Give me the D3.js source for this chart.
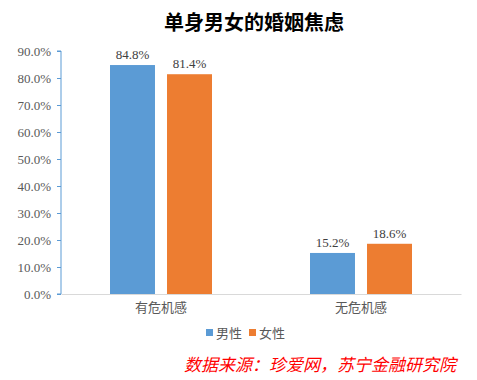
<!DOCTYPE html>
<html><head><meta charset="utf-8">
<script src="https://cdn.jsdelivr.net/npm/d3@7"></script>
<style>body{margin:0;background:#fff}svg{display:block}</style>
</head><body><svg id="c" width="477" height="380"></svg>
<script>
const categories = ["有危机感", "无危机感"];
const seriesNames = ["男性", "女性"];
const male = [84.8, 15.2];
const female = [81.4, 18.6];
const yTicks = [0, 10, 20, 30, 40, 50, 60, 70, 80, 90];
const colors = ["#5B9BD5", "#ED7D31"];

const svg = d3.select("#c");
const m = {l: 61, r: 16, t: 51, b: 86};
const W = 477, H = 380;
const x = d3.scaleBand().domain(categories).range([m.l, W - m.r]);
const xs = d3.scaleBand().domain(seriesNames).range([49, 151]).paddingInner(0.211);
const y = d3.scaleLinear().domain([0, 90]).range([H - m.b, m.t]);

svg.append("text").attr("x", 254).attr("y", 30).attr("text-anchor", "middle")
  .attr("font-family", "'Noto Sans CJK SC'").attr("font-weight", "bold").attr("font-size", 20)
  .attr("fill", "#000").text("单身男女的婚姻焦虑");

// y axis
const ya = svg.append("g").attr("transform", `translate(${m.l},0)`)
  .call(d3.axisLeft(y).tickValues(yTicks).tickSize(4).tickFormat(d => d.toFixed(1) + "%"));
ya.selectAll("path,line").attr("stroke", "#5B9BD5");
ya.select(".domain").attr("d", `M-4,${y(0)}H0V${y(90)}H-4`);
ya.selectAll("text").attr("font-family", "'Liberation Serif'").attr("font-size", 13).attr("fill", "#595959").attr("x", -10);

// x axis
const xa = svg.append("g").attr("transform", `translate(0,${y(0)})`)
  .call(d3.axisBottom(x).tickSize(0));
xa.select(".domain").attr("stroke", "#D9D9D9");
xa.selectAll("text").attr("font-family", "'Noto Sans CJK SC'").attr("font-size", 13).attr("fill", "#595959").attr("dy", "1.15em");

const data = categories.map((c, i) => ({c, vals: [male[i], female[i]]}));
const g = svg.append("g");
data.forEach(d => {
  d.vals.forEach((v, j) => {
    const bx = x(d.c) + xs(seriesNames[j]);
    g.append("rect").attr("x", bx).attr("y", y(v)).attr("width", xs.bandwidth()).attr("height", y(0) - y(v))
      .attr("fill", colors[j]);
    g.append("text").attr("x", bx + xs.bandwidth() / 2).attr("y", y(v) - 6).attr("text-anchor", "middle")
      .attr("font-family", "'Liberation Serif'").attr("font-size", 13).attr("fill", "#404040").text(v.toFixed(1) + "%");
  });
});

// legend
const lg = svg.append("g");
const lx = [206, 249];
seriesNames.forEach((s, j) => {
  lg.append("rect").attr("x", lx[j]).attr("y", 329).attr("width", 7).attr("height", 7).attr("fill", colors[j]);
  lg.append("text").attr("x", lx[j] + 10).attr("y", 338).attr("font-family", "'Noto Sans CJK SC'").attr("font-size", 13)
    .attr("fill", "#595959").text(s);
});

svg.append("text").attr("x", 456).attr("y", 371).attr("text-anchor", "end")
  .attr("font-family", "'Noto Sans CJK SC'").attr("font-style", "italic").attr("font-size", 17)
  .attr("fill", "#FF0000").text("数据来源：珍爱网，苏宁金融研究院");
</script></body></html>
